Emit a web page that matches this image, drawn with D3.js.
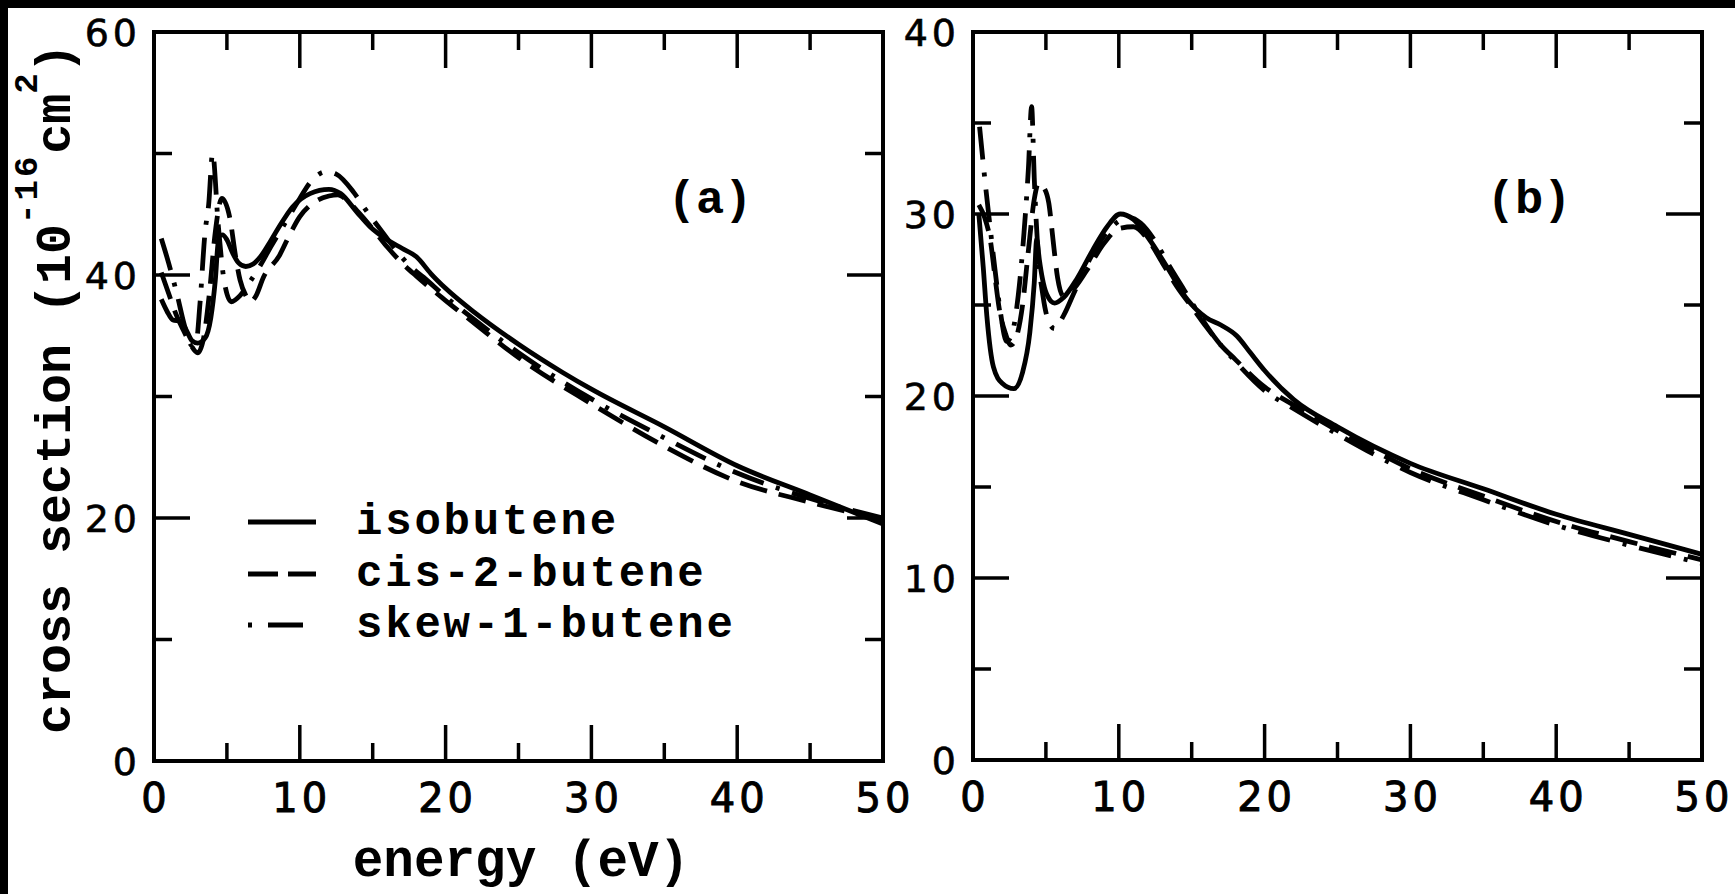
<!DOCTYPE html>
<html>
<head>
<meta charset="utf-8">
<script src="https://cdn.jsdelivr.net/npm/d3@7"></script>
<style>
  html, body { margin: 0; padding: 0; background: #fff; }
  svg { display: block; }
</style>
</head>
<body>
<svg id="chart" width="1735" height="894"></svg>
<script>
// Total cross sections of the butene isomers, [energy (eV), cross section (1e-16 cm^2)]
const isobuteneA = [[0.5,38.0],[0.9,37.0],[1.3,36.3],[1.8,36.2],[2.2,35.5],[2.6,34.6],[3.0,34.4],[3.5,34.8],[3.9,36.5],[4.2,39.5],[4.45,43.2],[4.7,43.3],[5.0,42.9],[5.4,41.8],[5.8,41.0],[6.3,40.7],[6.8,40.9],[7.3,41.5],[8.0,42.8],[8.5,43.8],[9.5,45.6],[10.7,46.7],[12.0,47.05],[12.8,46.7],[13.9,45.2],[14.8,44.0],[16.0,42.9],[17.0,42.2],[18.0,41.5],[19.0,40.1],[20.0,38.9],[22.0,36.9],[25.0,34.3],[28.0,32.0],[30.0,30.6],[35.0,27.5],[40.0,24.3],[45.0,21.9],[50.0,19.5]];
const cis2buteneA = [[0.5,40.2],[1.0,38.5],[1.5,36.8],[2.0,35.5],[2.5,34.3],[3.0,33.6],[3.4,34.8],[3.8,38.5],[4.2,43.5],[4.65,46.3],[5.2,44.7],[5.6,41.5],[5.9,39.6],[6.3,38.3],[6.6,37.8],[7.0,38.3],[7.5,39.8],[8.6,41.6],[9.3,43.3],[10.0,44.8],[11.0,46.0],[12.0,46.5],[12.6,46.6],[13.2,46.2],[14.0,45.2],[15.0,43.8],[16.0,42.3],[17.0,41.0],[18.0,39.9],[20.0,37.9],[22.0,36.0],[25.0,33.2],[30.0,29.4],[35.0,25.9],[40.0,23.0],[45.0,21.3],[50.0,19.8]];
const skew1buteneA = [[0.5,43.0],[1.0,41.0],[1.6,38.3],[2.1,35.8],[2.6,34.2],[2.9,34.5],[3.15,37.6],[3.5,43.5],[3.75,45.8],[4.02,50.0],[4.4,44.2],[4.8,39.6],[5.3,37.8],[5.9,38.3],[6.5,39.3],[7.3,40.8],[8.0,42.3],[9.0,44.3],[10.0,46.3],[10.7,47.6],[11.8,48.5],[12.5,48.3],[13.7,46.8],[14.5,45.4],[15.5,43.8],[16.5,42.2],[17.5,40.8],[18.5,39.8],[20.0,38.2],[22.0,36.3],[25.0,33.6],[30.0,29.8],[35.0,26.6],[40.0,23.7],[45.0,21.6],[50.0,20.0]];

const isobuteneB = [[0.4,30.0],[0.7,27.1],[0.95,24.4],[1.4,21.6],[2.0,20.7],[2.8,20.4],[3.4,21.3],[3.9,23.5],[4.2,26.2],[4.37,28.6],[4.55,27.5],[4.75,26.5],[5.05,25.6],[5.6,25.1],[6.2,25.4],[7.1,26.4],[8.2,28.0],[9.2,29.3],[10.1,30.0],[11.0,29.7],[12.1,28.6],[13.3,27.1],[14.7,25.3],[16.0,24.3],[17.0,23.9],[18.1,23.3],[19.0,22.4],[20.0,21.4],[22.0,19.8],[25.0,18.3],[30.0,16.3],[35.0,14.9],[40.0,13.5],[45.0,12.4],[50.0,11.3]];
const cis2buteneB = [[0.4,30.5],[0.8,29.8],[1.2,28.5],[1.5,26.6],[1.8,24.8],[2.2,23.5],[2.6,22.8],[3.0,23.3],[3.4,25.0],[3.8,28.0],[4.2,30.8],[4.5,31.7],[4.9,31.4],[5.2,30.6],[5.5,28.5],[5.8,26.5],[6.2,25.5],[6.8,25.8],[7.8,26.9],[9.0,28.4],[10.0,29.2],[11.0,29.3],[12.0,28.6],[13.0,27.3],[14.0,26.0],[15.0,24.9],[16.0,23.8],[17.0,22.8],[18.0,22.0],[20.0,20.5],[22.0,19.5],[25.0,18.1],[30.0,16.0],[35.0,14.5],[40.0,13.1],[45.0,12.0],[50.0,11.0]];
const skew1buteneB = [[0.45,34.8],[0.8,32.0],[1.1,29.8],[1.5,27.0],[1.9,24.5],[2.3,23.0],[2.7,23.5],[3.1,25.5],[3.5,29.0],[3.8,32.5],[4.02,35.9],[4.2,32.0],[4.45,28.0],[4.8,25.5],[5.3,23.9],[5.6,23.7],[6.2,24.4],[7.0,25.8],[8.0,27.5],[9.0,28.8],[10.0,29.6],[10.8,29.8],[11.5,29.5],[12.5,28.5],[13.5,27.1],[14.5,25.8],[15.5,24.5],[16.5,23.3],[18.0,21.9],[20.0,20.3],[22.0,19.3],[25.0,17.9],[30.0,15.8],[35.0,14.3],[40.0,12.9],[45.0,11.8],[50.0,10.8]];

const seriesNames = ["isobutene", "cis-2-butene", "skew-1-butene"];
const xTickLabels = [0, 10, 20, 30, 40, 50];
const yTickLabelsA = [0, 20, 40, 60];
const yTickLabelsB = [0, 10, 20, 30, 40];

const MONO = "'Liberation Mono', 'Courier New', monospace";
const SANS = "'DejaVu Sans', Verdana, sans-serif";
const dashes = ["none", "28,12", "33,13,4,13"];

const svg = d3.select("#chart");

// page frame bands
svg.append("rect").attr("x", 0).attr("y", 0).attr("width", 1735).attr("height", 8).attr("fill", "#000");
svg.append("rect").attr("x", 0).attr("y", 0).attr("width", 8).attr("height", 894).attr("fill", "#000");

function panel(cfg) {
  const x = d3.scaleLinear().domain([0, 50]).range([cfg.left, cfg.right]);
  const y = d3.scaleLinear().domain([0, cfg.yMax]).range([cfg.bottom, cfg.top]);
  const g = svg.append("g");

  // curves
  const line = d3.line().x(d => x(d[0])).y(d => y(d[1])).curve(d3.curveMonotoneX);
  g.selectAll("path.curve").data(cfg.series).join("path")
    .attr("class", "curve")
    .attr("d", d => line(d))
    .attr("fill", "none")
    .attr("stroke", "#000")
    .attr("stroke-width", 4.8)
    .attr("stroke-linejoin", "round")
    .attr("stroke-dasharray", (d, i) => dashes[i]);

  // frame
  g.append("rect")
    .attr("x", x(0)).attr("y", y(cfg.yMax))
    .attr("width", x(50) - x(0)).attr("height", y(0) - y(cfg.yMax))
    .attr("fill", "none").attr("stroke", "#000").attr("stroke-width", 4);

  // inward ticks on all four sides
  const xT = d3.range(5, 50, 5);
  const major = 36, minor = 18;
  const tk = g.append("g").attr("stroke", "#000").attr("stroke-width", 3.5);
  xT.forEach(v => {
    const L = v % 10 === 0 ? major : minor;
    tk.append("line").attr("x1", x(v)).attr("x2", x(v)).attr("y1", y(0)).attr("y2", y(0) - L);
    tk.append("line").attr("x1", x(v)).attr("x2", x(v)).attr("y1", y(cfg.yMax)).attr("y2", y(cfg.yMax) + L);
  });
  const yT = d3.range(cfg.yMinor, cfg.yMax, cfg.yMinor);
  yT.forEach(v => {
    const L = v % cfg.yMajor === 0 ? major : minor;
    tk.append("line").attr("y1", y(v)).attr("y2", y(v)).attr("x1", x(0)).attr("x2", x(0) + L);
    tk.append("line").attr("y1", y(v)).attr("y2", y(v)).attr("x1", x(50)).attr("x2", x(50) - L);
  });

  // tick labels
  g.selectAll("text.xl").data(xTickLabels).join("text")
    .attr("class", "xl")
    .attr("x", d => x(d) + 2).attr("y", y(0) + 51)
    .attr("text-anchor", "middle")
    .attr("font-family", SANS).attr("font-size", 40).attr("letter-spacing", 4)
    .attr("stroke", "#000").attr("stroke-width", 1)
    .text(d => d);
  g.selectAll("text.yl").data(cfg.yLabels).join("text")
    .attr("class", "yl")
    .attr("x", x(0) - 13).attr("y", d => y(d) + 14)
    .attr("text-anchor", "end")
    .attr("font-family", SANS).attr("font-size", 38).attr("letter-spacing", 4)
    .attr("stroke", "#000").attr("stroke-width", 0.6)
    .text(d => d);

  // panel tag
  g.append("text")
    .attr("x", cfg.tagX).attr("y", 213)
    .attr("text-anchor", "middle")
    .attr("font-family", MONO).attr("font-weight", "bold").attr("font-size", 47)
    .text(cfg.tag);

  return { x, y, g };
}

const pa = panel({ left: 154, right: 883, top: 32, bottom: 761, yMax: 60, yMinor: 10, yMajor: 20,
  yLabels: yTickLabelsA, series: [isobuteneA, cis2buteneA, skew1buteneA], tag: "(a)", tagX: 710 });
const pb = panel({ left: 973, right: 1702, top: 32, bottom: 760, yMax: 40, yMinor: 5, yMajor: 10,
  yLabels: yTickLabelsB, series: [isobuteneB, cis2buteneB, skew1buteneB], tag: "(b)", tagX: 1529 });

// legend in panel (a)
const legendDash = ["none", "30,10", "4,16,35,40"];
const legendRows = [522, 574, 625];
const leg = svg.append("g");
seriesNames.forEach((name, i) => {
  leg.append("line")
    .attr("x1", 248).attr("x2", 316).attr("y1", legendRows[i]).attr("y2", legendRows[i])
    .attr("stroke", "#000").attr("stroke-width", 5)
    .attr("stroke-dasharray", legendDash[i]);
  leg.append("text")
    .attr("x", 356).attr("y", legendRows[i] + 12)
    .attr("font-family", MONO).attr("font-weight", "bold").attr("font-size", 44)
    .attr("letter-spacing", 2.8)
    .text(name);
});

// axis titles
svg.append("text")
  .attr("x", 521).attr("y", 876)
  .attr("text-anchor", "middle")
  .attr("font-family", MONO).attr("font-weight", "bold").attr("font-size", 51)
  .text("energy (eV)");

const yTitle = svg.append("text")
  .attr("transform", "translate(70,734) rotate(-90)")
  .attr("font-family", MONO).attr("font-weight", "bold").attr("font-size", 50);
yTitle.append("tspan").text("cross section (10");
yTitle.append("tspan").attr("dy", -33).attr("font-size", 34).attr("letter-spacing", 3).text("-16");
yTitle.append("tspan").attr("dy", 33).text("cm");
yTitle.append("tspan").attr("dy", -33).attr("font-size", 34).text("2");
yTitle.append("tspan").attr("dy", 33).text(")");
</script>
</body>
</html>
